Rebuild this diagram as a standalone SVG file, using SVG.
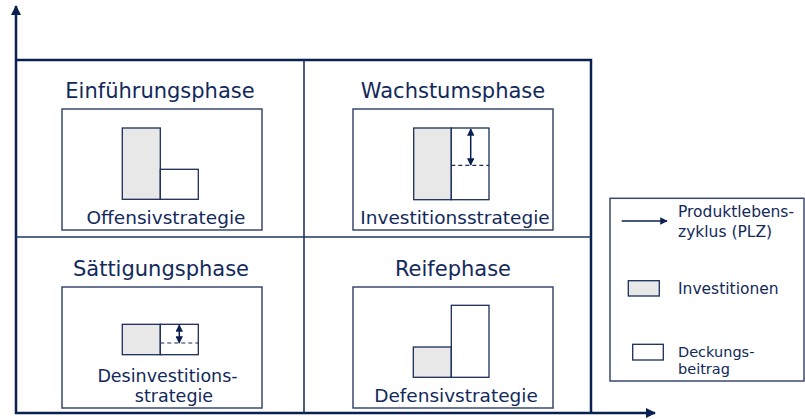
<svg xmlns="http://www.w3.org/2000/svg" width="805" height="419" viewBox="0 0 805 419">
<defs>
<style>
text{font-family:"DejaVu Sans","Verdana",sans-serif;fill:#12295a}
.title{font-size:21px;text-anchor:middle}
.sub{font-size:18.5px;text-anchor:middle}
.sub2{font-size:17.5px;text-anchor:middle}
.leg{font-size:15.5px}
.leg2{font-size:14.5px}
.box{fill:#fff;stroke:#3a4a6e;stroke-width:1.5}
.gray{fill:#e8e8e8;stroke:#1a2d5a;stroke-width:1.3}
.white{fill:#fff;stroke:#1a2d5a;stroke-width:1.3}
.dash{stroke:#1a2d5a;stroke-width:1.2;stroke-dasharray:4 3;fill:none}
.ax{stroke:#0a2050;stroke-width:2.5;fill:none}
.div{stroke:#1f3565;stroke-width:1.6;fill:none}
.dbl{stroke:#0a2050;stroke-width:1.5;fill:none}
</style>
<marker id="ah" viewBox="0 0 10 10" refX="9" refY="5" markerWidth="4" markerHeight="4" orient="auto-start-reverse" markerUnits="strokeWidth">
<path d="M0,0 L10,5 L0,10 z" fill="#0a2050"/>
</marker>
<marker id="sa" viewBox="0 0 10 10" refX="9" refY="5" markerWidth="5" markerHeight="5" orient="auto-start-reverse" markerUnits="strokeWidth">
<path d="M0,0 L10,5 L0,10 z" fill="#0a2050"/>
</marker>
</defs>
<rect width="805" height="419" fill="#fff"/>
<g id="connectors">
<line class="ax" x1="16" y1="414" x2="16" y2="6" marker-end="url(#ah)"/>
<line class="ax" x1="15" y1="413" x2="655" y2="413" marker-end="url(#ah)"/>
<polyline class="ax" points="16,60 591,60 591,413"/>
<line class="div" x1="304" y1="60" x2="304" y2="413"/>
<line class="div" x1="16" y1="237" x2="591" y2="237"/>
</g>
<g id="einfuehrung">
<text class="title" x="160" y="98">Einführungsphase</text>
<rect class="box" x="62" y="109" width="200" height="121"/>
<rect class="gray" x="122.3" y="128" width="38" height="71.3"/>
<rect class="white" x="160.3" y="169.3" width="38" height="30"/>
<text class="sub" x="166" y="224">Offensivstrategie</text>
</g>
<g id="wachstum">
<text class="title" x="453" y="98">Wachstumsphase</text>
<rect class="box" x="353" y="109" width="200" height="121"/>
<rect class="gray" x="413.7" y="128" width="37.6" height="71.7"/>
<rect class="white" x="451.3" y="128" width="37.7" height="71.7"/>
<line class="dash" x1="451.3" y1="165.3" x2="489" y2="165.3"/>
<line class="dbl" x1="470.7" y1="129" x2="470.7" y2="165" marker-start="url(#sa)" marker-end="url(#sa)"/>
<text class="sub" x="455" y="224">Investitionsstrategie</text>
</g>
<g id="saettigung">
<text class="title" x="161" y="276">Sättigungsphase</text>
<rect class="box" x="62" y="287" width="200" height="121"/>
<rect class="gray" x="122.3" y="324.3" width="38" height="30.4"/>
<rect class="white" x="160.3" y="324.3" width="38" height="30.4"/>
<line class="dash" x1="160.3" y1="343" x2="198.3" y2="343"/>
<line class="dbl" x1="179.3" y1="325" x2="179.3" y2="343" marker-start="url(#sa)" marker-end="url(#sa)"/>
<text class="sub2" x="167.5" y="382">Desinvestitions-</text>
<text class="sub2" x="174" y="402">strategie</text>
</g>
<g id="reife">
<text class="title" x="453" y="276">Reifephase</text>
<rect class="box" x="353" y="287" width="200" height="121"/>
<rect class="gray" x="413.3" y="347" width="38" height="30.3"/>
<rect class="white" x="451.3" y="305.3" width="37.7" height="72"/>
<text class="sub" x="456" y="401.5">Defensivstrategie</text>
</g>
<g id="legend">
<rect class="box" x="610" y="198.3" width="194" height="182.7"/>
<line class="dbl" x1="621.7" y1="221" x2="667" y2="221" marker-end="url(#sa)"/>
<text class="leg" x="678" y="217.3">Produktlebens-</text>
<text class="leg" x="678" y="236.7">zyklus (PLZ)</text>
<rect class="gray" x="628.3" y="280.7" width="31" height="15.3"/>
<text class="leg" x="678" y="294">Investitionen</text>
<rect class="white" x="632.7" y="344.3" width="30.6" height="15.7"/>
<text class="leg2" x="678" y="356.5">Deckungs-</text>
<text class="leg2" x="678" y="374">beitrag</text>
</g>
</svg>
